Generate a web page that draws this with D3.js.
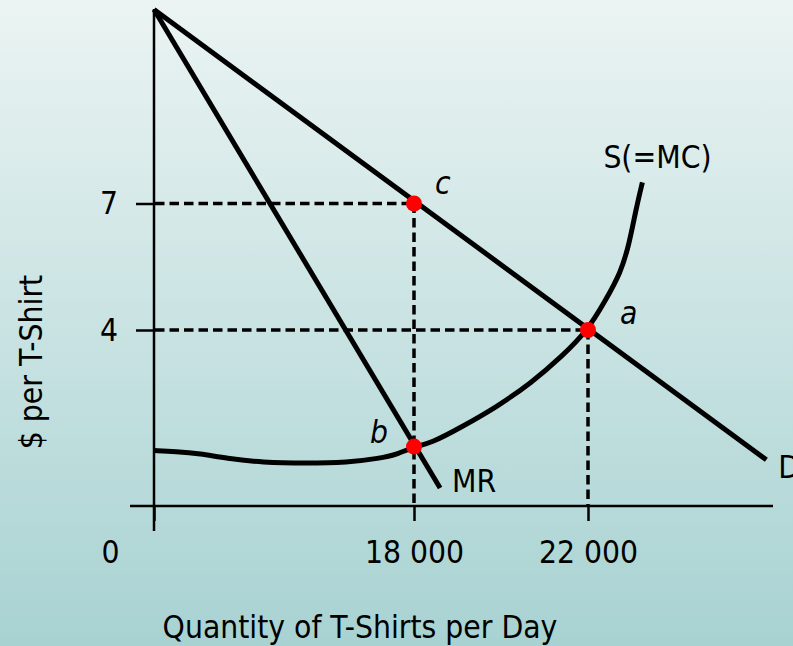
<!DOCTYPE html>
<html>
<head>
<meta charset="utf-8">
<script src="https://cdn.jsdelivr.net/npm/d3@7"></script>
<style>
  body { margin: 0; }
  svg text { font-family: "DejaVu Sans Condensed", "Liberation Sans", sans-serif; font-size: 31.5px; fill: #000; }
</style>
</head>
<body>
<div id="chart"></div>
<script>
/* DATA */
const priceTicks = [4, 7];
const qtyTicks = [0, 18000, 22000];
const qtyTickLabels = ["0", "18 000", "22 000"];

// demand and marginal revenue (straight lines)
const demandQty = [0, 26100];
const demandPrice = [11.6, 1.05];
const mrQty = [0, 18600];
const mrPrice = [11.6, 0.41];

// supply (= marginal cost) curve
const supplyQty = [0, 1500, 3200, 5000, 7500, 10500, 13400, 15600, 16900, 18000, 18400,
  19100, 19900, 20700, 21400, 22000, 22400, 22750, 22950, 23100, 23250];
const supplyPrice = [1.26, 1.24, 1.19, 1.08, 0.99, 0.97, 0.99, 1.08, 1.18, 1.35, 1.43,
  1.8, 2.25, 2.8, 3.4, 4.0, 4.7, 5.35, 6.05, 6.85, 7.5];

// marked points
const pointNames = ["c", "b", "a"];
const pointQty = [18000, 18000, 22000];
const pointPrice = [7, 1.35, 4];

/* LAYOUT */
const width = 793,
  height = 646;

// label offsets from the marked points / line ends
const pointLabelOffset = { c: [21, -10], b: [-44, -4], a: [32, -6] };

/* SCALES */
// the diagram is schematic, so the axes are not to scale between the marked values
const xScale = d3.scaleLinear()
  .domain([0, 18000, 22000])
  .range([154, 414, 588]);

const yScale = d3.scaleLinear()
  .domain([0, 4, 7])
  .range([506, 330, 203.5]);

const svg = d3.select("#chart")
  .append("svg")
  .attr("width", width)
  .attr("height", height);

// background gradient
const grad = svg.append("defs")
  .append("linearGradient")
  .attr("id", "bg")
  .attr("x1", 0).attr("y1", 0)
  .attr("x2", 0).attr("y2", 1);
grad.append("stop").attr("offset", "0%").attr("stop-color", "#ebf4f3");
grad.append("stop").attr("offset", "100%").attr("stop-color", "#a8d2d2");

svg.append("rect")
  .attr("width", width)
  .attr("height", height)
  .attr("fill", "url(#bg)");

/* AXES */
const x0 = xScale(0),
  y0 = yScale(0);

// axis lines
svg.append("line")
  .attr("x1", x0).attr("x2", x0)
  .attr("y1", 9).attr("y2", 531)
  .attr("stroke", "#000").attr("stroke-width", 2.5);

svg.append("line")
  .attr("x1", 130).attr("x2", 773)
  .attr("y1", y0).attr("y2", y0)
  .attr("stroke", "#000").attr("stroke-width", 2.5);

const yAxis = d3.axisLeft(yScale)
  .tickValues(priceTicks)
  .tickSize(18)
  .tickPadding(18)
  .tickFormat(d3.format("d"));

const yAxisG = svg.append("g")
  .attr("transform", `translate(${x0}, 0)`)
  .call(yAxis);
yAxisG.attr("font-size", null).attr("font-family", null);
yAxisG.select(".domain").remove();
yAxisG.selectAll("line").attr("stroke-width", 2.5);

const xAxis = d3.axisBottom(xScale)
  .tickValues(qtyTicks)
  .tickSize(15)
  .tickPadding(20)
  .tickFormat((d, i) => qtyTickLabels[i]);

const xAxisG = svg.append("g")
  .attr("transform", `translate(0, ${y0})`)
  .call(xAxis);
xAxisG.attr("font-size", null).attr("font-family", null);
xAxisG.select(".domain").remove();
xAxisG.selectAll("line").attr("stroke-width", 2.5);
xAxisG.selectAll(".tick")
  .filter(d => d === 0)
  .select("text")
  .attr("dx", -44);

/* GUIDES */
const guides = svg.append("g")
  .attr("stroke", "#000")
  .attr("stroke-width", 3.5)
  .attr("stroke-dasharray", "9.5,5");

pointNames.forEach((name, i) => {
  if (name === "b") return;
  guides.append("line")
    .attr("x1", x0 + 1).attr("x2", xScale(pointQty[i]))
    .attr("y1", yScale(pointPrice[i])).attr("y2", yScale(pointPrice[i]));
  guides.append("line")
    .attr("x1", xScale(pointQty[i])).attr("x2", xScale(pointQty[i]))
    .attr("y1", yScale(pointPrice[i])).attr("y2", y0);
});

/* CURVES */
const line = d3.line()
  .x(d => xScale(d.q))
  .y(d => yScale(d.p));

const toPoints = (qs, ps) => qs.map((q, i) => ({ q: q, p: ps[i] }));

const curves = [
  { name: "D", pts: toPoints(demandQty, demandPrice), curve: d3.curveLinear, off: [12, 18] },
  { name: "MR", pts: toPoints(mrQty, mrPrice), curve: d3.curveLinear, off: [12, 4] },
  { name: "S(=MC)", pts: toPoints(supplyQty, supplyPrice), curve: d3.curveBasis, off: [-39, -14] }
];

curves.forEach(c => {
  svg.append("path")
    .datum(c.pts)
    .attr("d", line.curve(c.curve))
    .attr("fill", "none")
    .attr("stroke", "#000")
    .attr("stroke-width", 5)
    .attr("stroke-linejoin", "round");

  const end = c.pts[c.pts.length - 1];
  svg.append("text")
    .attr("x", xScale(end.q) + c.off[0])
    .attr("y", yScale(end.p) + c.off[1])
    .text(c.name);
});

/* POINTS */
svg.selectAll("circle.pt")
  .data(pointNames)
  .join("circle")
  .attr("class", "pt")
  .attr("cx", (d, i) => xScale(pointQty[i]))
  .attr("cy", (d, i) => yScale(pointPrice[i]))
  .attr("r", 8)
  .attr("fill", "#ff0000");

svg.selectAll("text.pt-label")
  .data(pointNames)
  .join("text")
  .attr("class", "pt-label")
  .attr("x", (d, i) => xScale(pointQty[i]) + pointLabelOffset[d][0])
  .attr("y", (d, i) => yScale(pointPrice[i]) + pointLabelOffset[d][1])
  .attr("font-style", "italic")
  .text(d => d);

/* TITLES */
svg.append("text")
  .attr("transform", "translate(42, 362) rotate(-90)")
  .attr("text-anchor", "middle")
  .text("$ per T-Shirt");

svg.append("text")
  .attr("x", 360)
  .attr("y", 638)
  .attr("text-anchor", "middle")
  .text("Quantity of T-Shirts per Day");
</script>
</body>
</html>
